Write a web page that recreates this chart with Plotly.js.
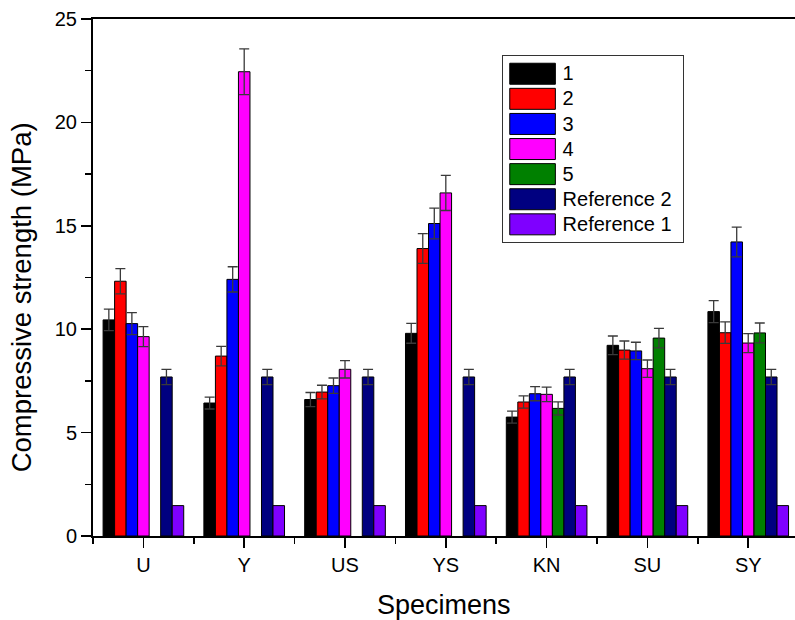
<!DOCTYPE html>
<html>
<head>
<meta charset="utf-8">
<script src="https://cdn.plot.ly/plotly-3.0.1.min.js"></script>
<style>html,body{margin:0;padding:0;background:#fff;}#chart{width:795px;height:620px;}</style>
</head>
<body>
<div id="chart"></div>
<script>
// ---- data ----
const categories = ['U', 'Y', 'US', 'YS', 'KN', 'SU', 'SY'];
const seriesNames = ['1', '2', '3', '4', '5', 'Reference 2', 'Reference 1'];
const s1 = [10.45, 6.43, 6.60, 9.80, 5.75, 9.22, 10.85];
const e1 = [0.52, 0.29, 0.34, 0.48, 0.29, 0.45, 0.53];
const s2 = [12.32, 8.70, 6.96, 13.90, 6.48, 8.99, 9.83];
const e2 = [0.61, 0.47, 0.33, 0.72, 0.30, 0.44, 0.52];
const s3 = [10.27, 12.41, 7.27, 15.11, 6.88, 8.95, 14.22];
const e3 = [0.53, 0.61, 0.37, 0.74, 0.34, 0.42, 0.72];
const s4 = [9.64, 22.45, 8.06, 16.59, 6.85, 8.09, 9.33];
const e4 = [0.48, 1.11, 0.42, 0.85, 0.35, 0.42, 0.46];
const s5 = [null, null, null, null, 6.17, 9.57, 9.82];
const e5 = [0, 0, 0, 0, 0.32, 0.47, 0.48];
const ref2 = [7.69, 7.69, 7.69, 7.69, 7.69, 7.69, 7.69];
const eRef2 = [0.37, 0.37, 0.37, 0.37, 0.37, 0.37, 0.37];
const ref1 = [1.47, 1.47, 1.47, 1.47, 1.47, 1.47, 1.47];

const colors = ['#000000', '#ff0000', '#0000ff', '#ff00ff', '#008000', '#000080', '#7f00ff'];
const values = [s1, s2, s3, s4, s5, ref2, ref1];
const errors = [e1, e2, e3, e4, e5, eRef2, null];

const xpos = categories.map((c, i) => i);
const FONT = 'Arial, "Liberation Sans", sans-serif';

const traces = values.map((v, k) => {
  const t = {
    type: 'bar',
    name: seriesNames[k],
    x: xpos,
    y: v,
    marker: {color: colors[k], line: {color: '#000', width: 1}},
    hoverinfo: 'skip'
  };
  if (errors[k]) {
    t.error_y = {type: 'data', array: errors[k], visible: true, color: '#3a3a3a', thickness: 1.3, width: 5};
  }
  return t;
});

const layout = {
  width: 795, height: 620,
  margin: {l: 93, r: 0, t: 19, b: 84},
  paper_bgcolor: '#fff', plot_bgcolor: '#fff',
  barmode: 'group', bargap: 0.2, bargroupgap: 0,
  font: {family: FONT, color: '#000'},
  showlegend: true,
  legend: {
    x: 0.582, y: 0.930, xanchor: 'left', yanchor: 'top',
    bgcolor: '#fff', bordercolor: '#333', borderwidth: 1,
    font: {family: FONT, size: 17, color: '#000'},
    itemwidth: 50, tracegroupgap: 0
  },
  xaxis: {
    range: [-0.5, 6.464],
    tickmode: 'array', tickvals: xpos, ticktext: categories,
    showgrid: false, zeroline: false,
    showline: true, linecolor: '#000', linewidth: 2, mirror: true,
    ticks: 'outside', ticklen: 10, tickwidth: 1.5, tickcolor: '#000',
    tickfont: {family: FONT, size: 20, color: '#000'},
    minor: {tickmode: 'linear', tick0: -0.5, dtick: 1, ticks: 'outside', ticklen: 6, tickwidth: 1.5, tickcolor: '#000', showgrid: false},
    fixedrange: true
  },
  yaxis: {
    range: [0, 25],
    tickmode: 'linear', tick0: 0, dtick: 5,
    showgrid: false, zeroline: false,
    showline: true, linecolor: '#000', linewidth: 2, mirror: false,
    ticks: 'outside', ticklen: 10, tickwidth: 1.5, tickcolor: '#000',
    tickfont: {family: FONT, size: 20, color: '#000'},
    minor: {tickmode: 'linear', tick0: 0, dtick: 2.5, ticks: 'outside', ticklen: 6, tickwidth: 1.5, tickcolor: '#000', showgrid: false},
    fixedrange: true
  },
  annotations: [
    {text: 'Compressive strength (MPa)', xref: 'paper', yref: 'paper', x: -0.1016, y: 0.461,
     xanchor: 'center', yanchor: 'middle', textangle: -90, showarrow: false,
     font: {family: FONT, size: 27.5, color: '#000'}},
    {text: 'Specimens', xref: 'paper', yref: 'paper', x: 0.5, y: -0.1335,
     xanchor: 'center', yanchor: 'middle', showarrow: false,
     font: {family: FONT, size: 27, color: '#000'}}
  ]
};

Plotly.newPlot('chart', traces, layout, {displayModeBar: false, staticPlot: true}).then(gd => {
  // enlarge legend swatches
  gd.querySelectorAll('.legend .legendpoints path').forEach(p => {
    const tr = p.getAttribute('transform') || '';
    p.setAttribute('transform', tr + ' scale(3.8,1.75)');
    p.style.vectorEffect = 'non-scaling-stroke';
  });
  // larger legend text with the compact row pitch
  gd.querySelectorAll('.legend .legendtext').forEach(t => {
    t.style.fontSize = '20px';
  });
  // widen the legend box to fit the larger text
  const targetW = 181;
  const bg = gd.querySelector('.legend rect.bg');
  if (bg) {
    const w = parseFloat(bg.getAttribute('width'));
    const dw = targetW - w;
    bg.setAttribute('width', targetW);
    gd.querySelectorAll('clipPath[id^="legend"] rect').forEach(r => {
      const rw = parseFloat(r.getAttribute('width'));
      if (!isNaN(rw)) r.setAttribute('width', rw + dw);
    });
  }
});
</script>
</body>
</html>
